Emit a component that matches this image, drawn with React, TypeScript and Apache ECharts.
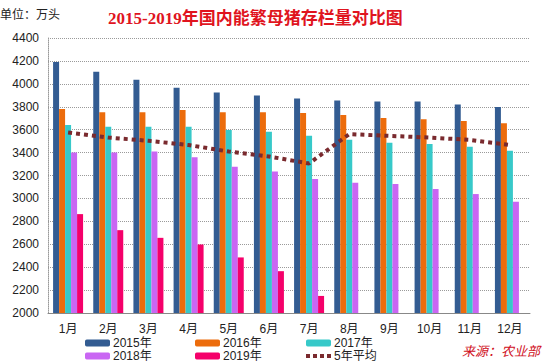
import React, { useEffect, useRef } from "react";
import * as echarts from "echarts";

const months = ["1月", "2月", "3月", "4月", "5月", "6月", "7月", "8月", "9月", "10月", "11月", "12月"];
const y2015 = [4190, 4105, 4036, 3966, 3925, 3899, 3872, 3855, 3846, 3846, 3820, 3797];
const y2016 = [3780, 3753, 3753, 3771, 3753, 3753, 3745, 3727, 3701, 3692, 3675, 3657];
const y2017 = [3640, 3625, 3625, 3625, 3598, 3581, 3546, 3511, 3485, 3476, 3450, 3415];
const y2018 = [3400, 3400, 3409, 3360, 3277, 3234, 3170, 3137, 3126, 3082, 3038, 2971];
const y2019 = [2863, 2723, 2656, 2598, 2485, 2365, 2149, null, null, null, null, null];
const avg5 = [3576, 3531, 3503, 3466, 3409, 3366, 3305, 3561, 3546, 3531, 3511, 3467];

const seriesNames = ["2015年", "2016年", "2017年", "2018年", "2019年", "5年平均"];
const colors = ["#335c92", "#ec6c0c", "#37c9c9", "#c966f3", "#f5006a", "#7a2a2e"];

const yTicks = { min: 2000, max: 4400, interval: 200 };

const font = "'Liberation Sans', 'Noto Sans CJK SC', sans-serif";

export default function App() {
  const ref = useRef<HTMLDivElement>(null);
  useEffect(() => {
    document.body.style.margin = "0";
    if (!ref.current) return;
    const chart = echarts.init(ref.current, null, { renderer: "svg" });
    const barData = [y2015, y2016, y2017, y2018, y2019];
    const legendPos = [
      [85, 337], [195, 337], [306, 337],
      [85, 350], [195, 350], [306, 350],
    ];
    const dotIcon = "path://M0,0h4v4h-4z M7,0h4v4h-4z M14,0h4v4h-4z M21,0h4v4h-4z";
    chart.setOption({
      animation: false,
      backgroundColor: "#ffffff",
      title: {
        text: "2015-2019年国内能繁母猪存栏量对比图",
        left: 103,
        top: 5,
        textStyle: {
          color: "#e0141e",
          fontSize: 17,
          fontWeight: "bold",
          fontFamily: "'Liberation Serif', 'Noto Sans CJK SC', serif",
        },
      },
      graphic: [
        {
          type: "text",
          left: 0,
          top: 9,
          style: { text: "单位：万头", fill: "#222", font: `12px ${font}` },
        },
        {
          type: "text",
          left: 462,
          top: 344,
          style: {
            text: "来源：农业部",
            fill: "#d0101c",
            font: `italic 13px 'Noto Sans CJK SC', sans-serif`,
          },
        },
      ],
      legend: seriesNames.map((n, i) => ({
        data: i === 5 ? [{ name: n, icon: dotIcon }] : [n],
        left: legendPos[i][0],
        top: legendPos[i][1] + (i === 5 ? 0 : 0),
        itemWidth: 25,
        itemHeight: i === 5 ? 4 : 7,
        itemGap: 0,
        padding: 0,
        selectedMode: false,
        textStyle: { fontSize: 12, color: "#222", fontFamily: font, padding: [0, 0, 0, -2] },
      })),
      grid: { left: 48, right: 20, top: 38, bottom: 49 },
      xAxis: {
        type: "category",
        data: months,
        axisLine: { show: true, lineStyle: { color: "#888", width: 1 } },
        axisTick: { show: false },
        axisLabel: { fontSize: 12, color: "#222", margin: 10, fontFamily: font },
      },
      yAxis: {
        type: "value",
        min: yTicks.min,
        max: yTicks.max,
        interval: yTicks.interval,
        axisLine: { show: true, lineStyle: { color: "#999", type: "dotted", width: 1 } },
        axisTick: { show: false },
        axisLabel: {
          fontSize: 12,
          color: "#222",
          margin: 9,
          fontFamily: font,
          formatter: (v: number) => String(v),
        },
        splitLine: { show: true, lineStyle: { color: "#9a9a9a", type: "dotted", width: 1 } },
      },
      series: [
        ...barData.map((d, i) => ({
          name: seriesNames[i],
          type: "bar",
          data: d,
          barWidth: 6,
          barGap: "0%",
          itemStyle: { color: colors[i] },
        })),
        {
          name: seriesNames[5],
          type: "line",
          data: avg5,
          symbol: "none",
          lineStyle: { color: colors[5], width: 4, type: [4, 4], cap: "butt" },
          itemStyle: { color: colors[5] },
          z: 5,
        },
      ],
    });
    return () => chart.dispose();
  }, []);
  return <div ref={ref} style={{ width: 550, height: 362 }} />;
}
